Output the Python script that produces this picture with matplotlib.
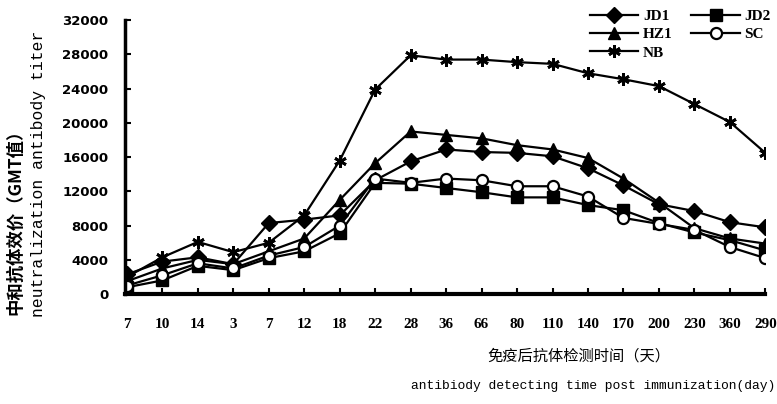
import numpy as np
import matplotlib.pyplot as plt

# x categories (days after immunization)
days = ['7', '10', '14', '3', '7', '12', '18', '22', '28', '36', '66', '80',
        '110', '140', '170', '200', '230', '360', '290']

jd1 = [2300, 3800, 4300, 3500, 8300, 8700, 9200, 13300, 15500, 16900, 16600,
       16500, 16100, 14700, 12700, 10500, 9700, 8400, 7800]
jd2 = [800, 1600, 3300, 2800, 4200, 5000, 7100, 13000, 12900, 12400, 11900,
       11300, 11300, 10400, 9800, 8300, 7200, 6300, 5100]
hz1 = [1500, 3000, 4000, 3500, 5000, 6500, 11000, 15300, 19000, 18600, 18200,
       17400, 16900, 15900, 13500, 10700, 7700, 6500, 5900]
sc = [1000, 2200, 3600, 3000, 4500, 5500, 8000, 13500, 13000, 13500, 13300,
      12600, 12600, 11400, 8900, 8200, 7500, 5500, 4200]
nb = [2000, 4300, 6100, 4900, 6000, 9200, 15600, 23900, 27900, 27400, 27400,
      27100, 26900, 25800, 25100, 24300, 22200, 20100, 16500]

cjk = ['Noto Sans CJK SC', 'DejaVu Sans']
mono = ['Liberation Mono', 'DejaVu Sans Mono']

fig = plt.figure(figsize=(7.77, 4.04), dpi=100)
ax = fig.add_axes([0.161, 0.272, 0.824, 0.678])

x = np.arange(len(days))
lw = 1.6
ax.plot(x, jd1, color='black', lw=lw, marker='D', ms=8, mfc='black', label='JD1')
ax.plot(x, hz1, color='black', lw=lw, marker='^', ms=9, mfc='black', label='HZ1')
ax.plot(x, nb, color='black', lw=lw, marker=(6, 2, 0), ms=9, mew=2, label='NB')
ax.plot(x, jd2, color='black', lw=lw, marker='s', ms=8, mfc='black', label='JD2')
ax.plot(x, sc, color='black', lw=lw, marker='o', ms=8, mfc='white', mew=1.6, label='SC')

ax.set_xlim(-0.05, 18)
ax.set_ylim(0, 32000)
ax.set_yticks(np.arange(0, 32001, 4000))
ax.set_xticks(x)
ax.set_xticklabels(days, family='Liberation Serif', fontweight='bold', fontsize=11)
for t in ax.get_yticklabels():
    t.set_family('DejaVu Sans')
    t.set_fontweight('bold')
    t.set_fontsize(9.5)

ax.spines['top'].set_visible(False)
ax.spines['right'].set_visible(False)
ax.spines['left'].set_linewidth(2.5)
ax.spines['bottom'].set_linewidth(3)
ax.tick_params(axis='y', direction='in', length=4, width=1.5, pad=12)
ax.tick_params(axis='x', direction='in', length=4, width=1.5, pad=17)

fig.text(0.019, 0.462, '中和抗体效价（GMT值）', rotation=90, ha='center', va='center',
         family=cjk, fontweight='bold', fontsize=12.5)
fig.text(0.049, 0.569, 'neutralization antibody titer', rotation=90, ha='center',
         va='center', family=mono, fontsize=11.8)
fig.text(0.745, 0.118, '免疫后抗体检测时间（天）', ha='center', va='center',
         family=cjk, fontsize=11)
fig.text(0.998, 0.045, 'antibiody detecting time post immunization(day)', ha='right',
         va='center', family=mono, fontsize=9.4)

leg = ax.legend(ncol=2, loc='upper right', bbox_to_anchor=(1.03, 1.09),
                frameon=False, handlelength=3.2, handletextpad=0.3,
                labelspacing=0.3, columnspacing=1.2,
                prop={'family': 'Liberation Serif', 'weight': 'bold', 'size': 11})

fig.savefig('out.png', dpi=100)
